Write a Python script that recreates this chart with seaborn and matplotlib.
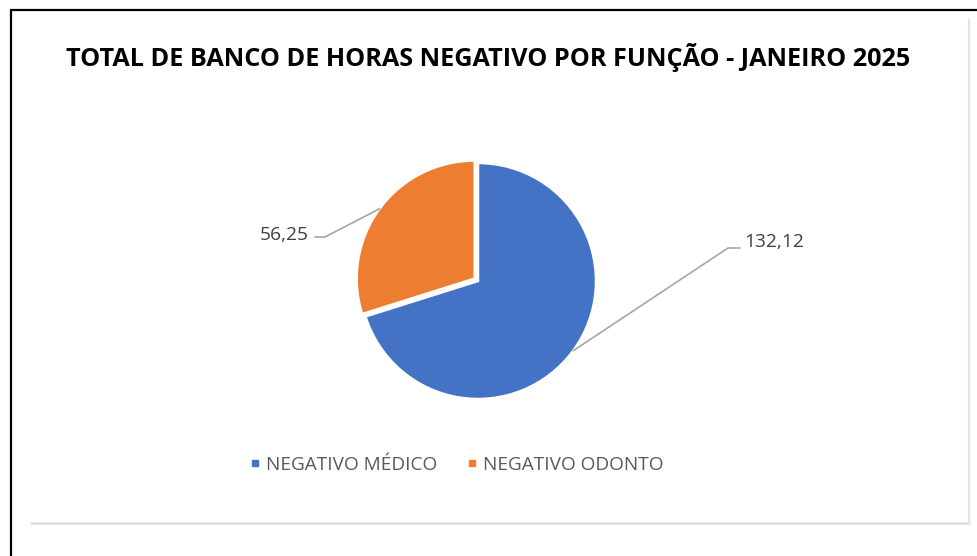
import numpy as np
import matplotlib
matplotlib.use('Agg')
import matplotlib.pyplot as plt
import seaborn as sns
from matplotlib.lines import Line2D

# data
categories = ['NEGATIVO MÉDICO', 'NEGATIVO ODONTO']
values = [132.12, 56.25]
value_labels = ['132,12', '56,25']
colors = ['#4472C4', '#ED7D31']
title = 'TOTAL DE BANCO DE HORAS NEGATIVO POR FUNÇÃO - JANEIRO 2025'

sns.set_theme(style='white')
plt.rcParams['font.family'] = ['Open Sans', 'DejaVu Sans']

W, H = 978, 556
fig = plt.figure(figsize=(W / 100, H / 100), dpi=100)
ax = fig.add_axes([0, 0, 1, 1])
ax.set_xlim(0, W)
ax.set_ylim(0, H)
ax.set_aspect('equal')
ax.axis('off')

def py(y):
    # pixel row (from top) -> data y
    return H - y

# frame: dark top/left border, light inner chart box
ax.plot([11, W], [py(10), py(10)], color='black', lw=1.6)
ax.plot([11, 11], [py(10), 0], color='black', lw=1.6)
ax.plot([31, 969], [py(523), py(523)], color='#DDDDDD', lw=1.8)
ax.plot([969, 969], [py(20), py(523)], color='#E3E3E3', lw=1.5)

# title, scaled to the reference width
t = ax.text(488, py(57), title, ha='center', va='center',
            fontsize=17, fontweight='bold', color='black')
fig.canvas.draw()
bb = t.get_window_extent()
t.set_fontsize(17 * 847 / bb.width)

# pie
cx, cy, r = 478, py(281), 118
wedges, _ = ax.pie(values, colors=colors, startangle=90, counterclock=False,
                   center=(cx, cy), radius=r, explode=[0, 0.035 * r],
                   wedgeprops=dict(edgecolor='white', linewidth=1.8))
ax.set_xlim(0, W)
ax.set_ylim(0, H)

# labels with leader lines
label_pos = [(744, 242, 'left', (740, 248), (728, 248)),
             (309, 235, 'right', (315, 237), (325, 237))]
for w, lab, (tx, ty, ha, p1, p2) in zip(wedges, value_labels, label_pos):
    mid = np.deg2rad((w.theta1 + w.theta2) / 2)
    wx, wy = w.center
    ex = wx + w.r * np.cos(mid)
    ey = wy + w.r * np.sin(mid)
    ax.plot([ex, p2[0], p1[0]], [ey, py(p2[1]), py(p1[1])],
            color='#A6A6A6', lw=1.2)
    ax.text(tx, py(ty), lab, ha=ha, va='center', fontsize=13.8, color='#404040')

# legend
handles = [Line2D([], [], marker='s', linestyle='none', markersize=5,
                  markerfacecolor=c, markeredgecolor=c) for c in colors]
ax.legend(handles, categories, loc='center', bbox_to_anchor=(457, py(465)),
          bbox_transform=ax.transData, ncol=2, frameon=False, fontsize=13.7,
          handlelength=0.5, handletextpad=0.3, columnspacing=1.6,
          labelcolor='#595959')

fig.savefig('out.png', dpi=100, facecolor='white')
